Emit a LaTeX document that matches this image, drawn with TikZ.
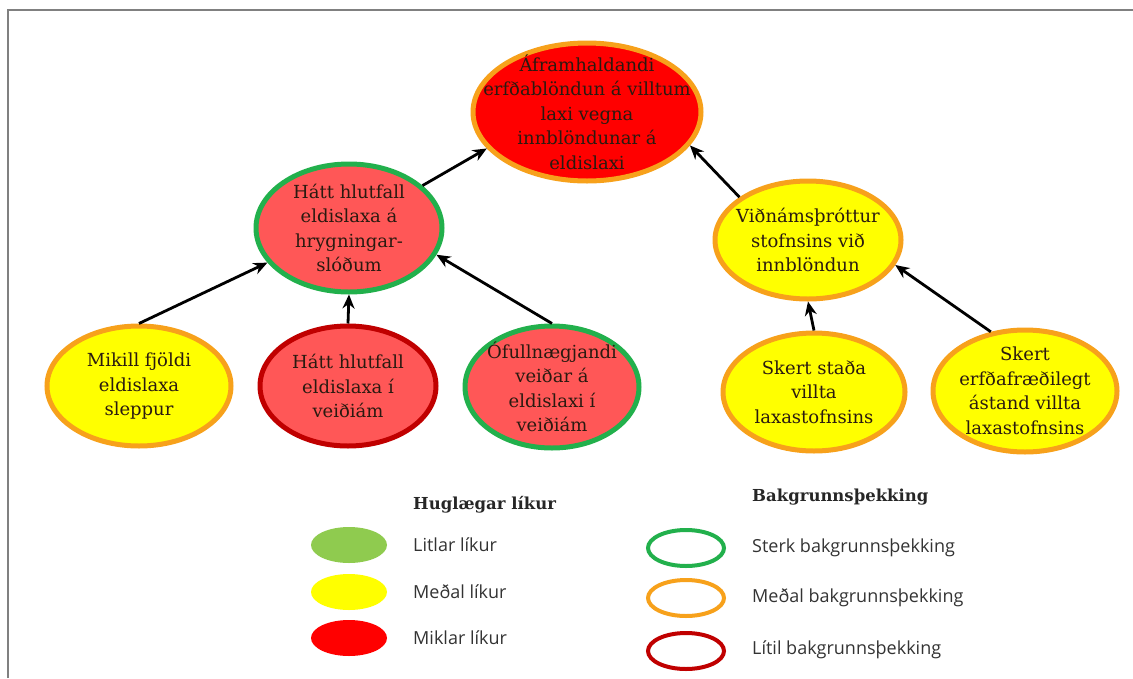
\documentclass[tikz,border=0pt]{standalone}
\usepackage{fontspec}
\setmainfont{DejaVu Serif}
\newfontfamily\legfont{Open Sans}
\usetikzlibrary{shapes.geometric,arrows.meta}
\definecolor{hired}{HTML}{FF0000}
\definecolor{salmon}{HTML}{FF5757}
\definecolor{yel}{HTML}{FFFF00}
\definecolor{orng}{HTML}{F7A11B}
\definecolor{grn}{HTML}{22B04C}
\definecolor{dred}{HTML}{C00000}
\definecolor{lgrn}{HTML}{8FCB4F}
\definecolor{txt}{HTML}{2A1A10}
\begin{document}
\begin{tikzpicture}[x=1pt,y=-1pt,
  cnode/.style={ellipse, line width=5pt, inner sep=0pt},
  ctext/.style={inner sep=0pt, align=center, text=txt, font=\fontsize{18}{24.5}\selectfont},
  arr/.style={-{Stealth[length=14pt,width=12pt]}, line width=2.8pt, black},
  legtxt/.style={anchor=west, inner sep=0pt, font=\legfont\fontsize{18}{20}\selectfont, text=black!80},
  leghead/.style={anchor=west, inner sep=0pt, font=\bfseries\fontsize{16.5}{18}\selectfont, text=black!85},
  legfill/.style={ellipse, minimum width=76pt, minimum height=36pt, inner sep=0pt},
  legring/.style={ellipse, minimum width=76pt, minimum height=36pt, inner sep=0pt, line width=4pt, fill=white}
]
\useasboundingbox (0,0) rectangle (1133,678);
\draw[gray, line width=1.6pt] (8,678) -- (8,10) -- (1133,10);

% main nodes (shapes)
\node[cnode, fill=hired, draw=orng, minimum width=228pt, minimum height=138pt] (T) at (587,112) {};
\node[cnode, fill=salmon, draw=grn, minimum width=186pt, minimum height=128pt] (L) at (349,228) {};
\node[cnode, fill=yel, draw=orng, minimum width=186pt, minimum height=118pt] (R) at (808,240) {};
\node[cnode, fill=yel, draw=orng, minimum width=184pt, minimum height=120pt] (A) at (139,386) {};
\node[cnode, fill=salmon, draw=dred, minimum width=176pt, minimum height=120pt] (B) at (348,386) {};
\node[cnode, fill=salmon, draw=grn, minimum width=174pt, minimum height=122pt] (C) at (552,387) {};
\node[cnode, fill=yel, draw=orng, minimum width=182pt, minimum height=118pt] (D) at (814,392) {};
\node[cnode, fill=yel, draw=orng, minimum width=184pt, minimum height=122pt] (E) at (1025,391) {};

% main nodes (texts)
\node[ctext] (Tt) at (T) {Áframhaldandi\\erfðablöndun á villtum\\laxi vegna\\innblöndunar á\\eldislaxi};
\node[ctext] (Lt) at (L) {Hátt hlutfall\\eldislaxa á\\hrygningar-\\slóðum};
\node[ctext] (Rt) at (R) {Viðnámsþróttur\\stofnsins við\\innblöndun};
\node[ctext] (At) at (A) {Mikill fjöldi\\eldislaxa\\sleppur};
\node[ctext] (Bt) at (B) {Hátt hlutfall\\eldislaxa í\\veiðiám};
\node[ctext] (Ct) at (C) {Ófullnægjandi\\veiðar á\\eldislaxi í\\veiðiám};
\node[ctext] (Dt) at (D) {Skert staða\\villta\\laxastofnsins};
\node[ctext] (Et) at (E) {Skert\\erfðafræðilegt\\ástand villta\\laxastofnsins};

% connectors
\draw[arr] (A.north) -- (L.203);
\draw[arr] (B.north) -- (L.south);
\draw[arr] (C.north) -- (L.-17);
\draw[arr] (L.30) -- (T.200);
\draw[arr] (R.148) -- (T.-18);
\draw[arr] (D.north) -- (R.south);
\draw[arr] (E.120) -- (R.-16);

% legend: likelihood
\node[leghead] (h1) at (413,505) {Huglægar líkur};
\node[legfill, fill=lgrn] (f1) at (349,545) {};
\node[legfill, fill=yel] (f2) at (349,592) {};
\node[legfill, fill=hired] (f3) at (349,638) {};
\node[legtxt] (t1) at (413,545) {Litlar líkur};
\node[legtxt] (t2) at (413,592) {Meðal líkur};
\node[legtxt] (t3) at (413,638) {Miklar líkur};

% legend: background knowledge
\node[leghead] (h2) at (752,497) {Bakgrunnsþekking};
\node[legring, draw=grn] (r1) at (686,548) {};
\node[legring, draw=orng] (r2) at (686,598) {};
\node[legring, draw=dred] (r3) at (686,651) {};
\node[legtxt] (u1) at (752,548) {Sterk bakgrunnsþekking};
\node[legtxt] (u2) at (752,598) {Meðal bakgrunnsþekking};
\node[legtxt] (u3) at (752,650) {Lítil bakgrunnsþekking};
\end{tikzpicture}
\end{document}
